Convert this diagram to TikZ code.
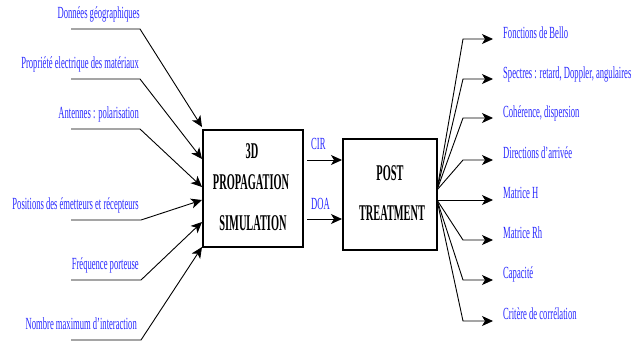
\documentclass[tikz,border=0pt]{standalone}
\usepackage{fontspec}
\setmainfont{Liberation Serif}[FakeStretch=0.505]
\newfontfamily\boxfont{Liberation Serif}[FakeStretch=0.46]
\usetikzlibrary{arrows.meta}
\definecolor{lblue}{RGB}{40,40,255}
\begin{document}
\begin{tikzpicture}[x=1pt,y=-1pt,
  lbl/.style={text=lblue, font=\fontsize{17}{19}\selectfont, inner sep=0pt},
  boxtxt/.style={font=\boxfont\fontsize{22.5}{25}\selectfont\bfseries, inner sep=0pt, anchor=base},
  box/.style={draw, line width=1.2pt, inner sep=0pt},
  conn/.style={line width=0.9pt, -{Stealth[length=11pt,width=10pt,inset=3pt]}},
]
\useasboundingbox (0,0) rectangle (634,341);

% boxes
\node[box, minimum width=100pt, minimum height=117pt] (sim) at (253,188.5) {};
\node[box, minimum width=94pt, minimum height=111pt] (post) at (390,194.5) {};
\node[boxtxt] (t3d) at (252,158) {3D};
\node[boxtxt] (tprop) at (251,189) {PROPAGATION};
\node[boxtxt] (tsim) at (253,230) {SIMULATION};
\node[boxtxt] (tpost) at (390,180) {POST};
\node[boxtxt] (ttreat) at (392,220) {TREATMENT};

% left labels
\node[lbl, anchor=base east] (l1) at (140,18) {Données géographiques};
\node[lbl, anchor=base east] (l2) at (139,68) {Propriété electrique des matériaux};
\node[lbl, anchor=base east] (l3) at (139,118) {Antennes : polarisation};
\node[lbl, anchor=base east] (l4) at (139,209) {Positions des émetteurs et récepteurs};
\node[lbl, anchor=base east] (l5) at (139,269) {Fréquence porteuse};
\node[lbl, anchor=base east] (l6) at (137,329) {Nombre maximum d’interaction};

% left connectors
\coordinate (s1) at (71,29);  \coordinate (b1) at (140,29);  \coordinate (e1) at (202,127);
\coordinate (s2) at (71,79);  \coordinate (b2) at (140,79);  \coordinate (e2) at (202,159);
\coordinate (s3) at (71,129); \coordinate (b3) at (140,129); \coordinate (e3) at (202,187);
\coordinate (s4) at (71,220); \coordinate (b4) at (141,220); \coordinate (e4) at (202,200);
\coordinate (s5) at (71,280); \coordinate (b5) at (141,280); \coordinate (e5) at (202,222);
\coordinate (s6) at (71,340); \coordinate (b6) at (141,340); \coordinate (e6) at (202,247);
\foreach \i in {1,...,6} \draw[conn] (s\i) -- (b\i) -- (e\i);

% CIR / DOA
\coordinate (cirS) at (307,160); \coordinate (cirE) at (342,160);
\coordinate (doaS) at (307,219); \coordinate (doaE) at (342,219);
\draw[conn] (cirS) -- (cirE);
\draw[conn] (doaS) -- (doaE);
\node[lbl, anchor=base west] (cir) at (311,149) {CIR};
\node[lbl, anchor=base west] (doa) at (311,209) {DOA};

% right fan
\coordinate (fa) at (437,190);
\coordinate (fb) at (437,200);
\foreach \i/\y in {1/39,2/79,3/118,4/160} {
  \coordinate (k\i) at (463,\y); \coordinate (o\i) at (493,\y);
  \draw[conn] (fa) -- (k\i) -- (o\i);
}
\coordinate (o5) at (493,200);
\draw[conn] (fb) -- (o5);
\foreach \i/\y in {6/240,7/280,8/321} {
  \coordinate (k\i) at (463,\y); \coordinate (o\i) at (493,\y);
  \draw[conn] (fb) -- (k\i) -- (o\i);
}

% right labels
\node[lbl, anchor=base west] (r1) at (503,38) {Fonctions de Bello};
\node[lbl, anchor=base west] (r2) at (503,78) {Spectres : retard, Doppler, angulaires};
\node[lbl, anchor=base west] (r3) at (503,117) {Cohérence, dispersion};
\node[lbl, anchor=base west] (r4) at (503,158) {Directions d’arrivée};
\node[lbl, anchor=base west] (r5) at (503,198) {Matrice H};
\node[lbl, anchor=base west] (r6) at (503,238) {Matrice Rh};
\node[lbl, anchor=base west] (r7) at (503,278) {Capacité};
\node[lbl, anchor=base west] (r8) at (503,319) {Critère de corrélation};
\end{tikzpicture}
\end{document}
